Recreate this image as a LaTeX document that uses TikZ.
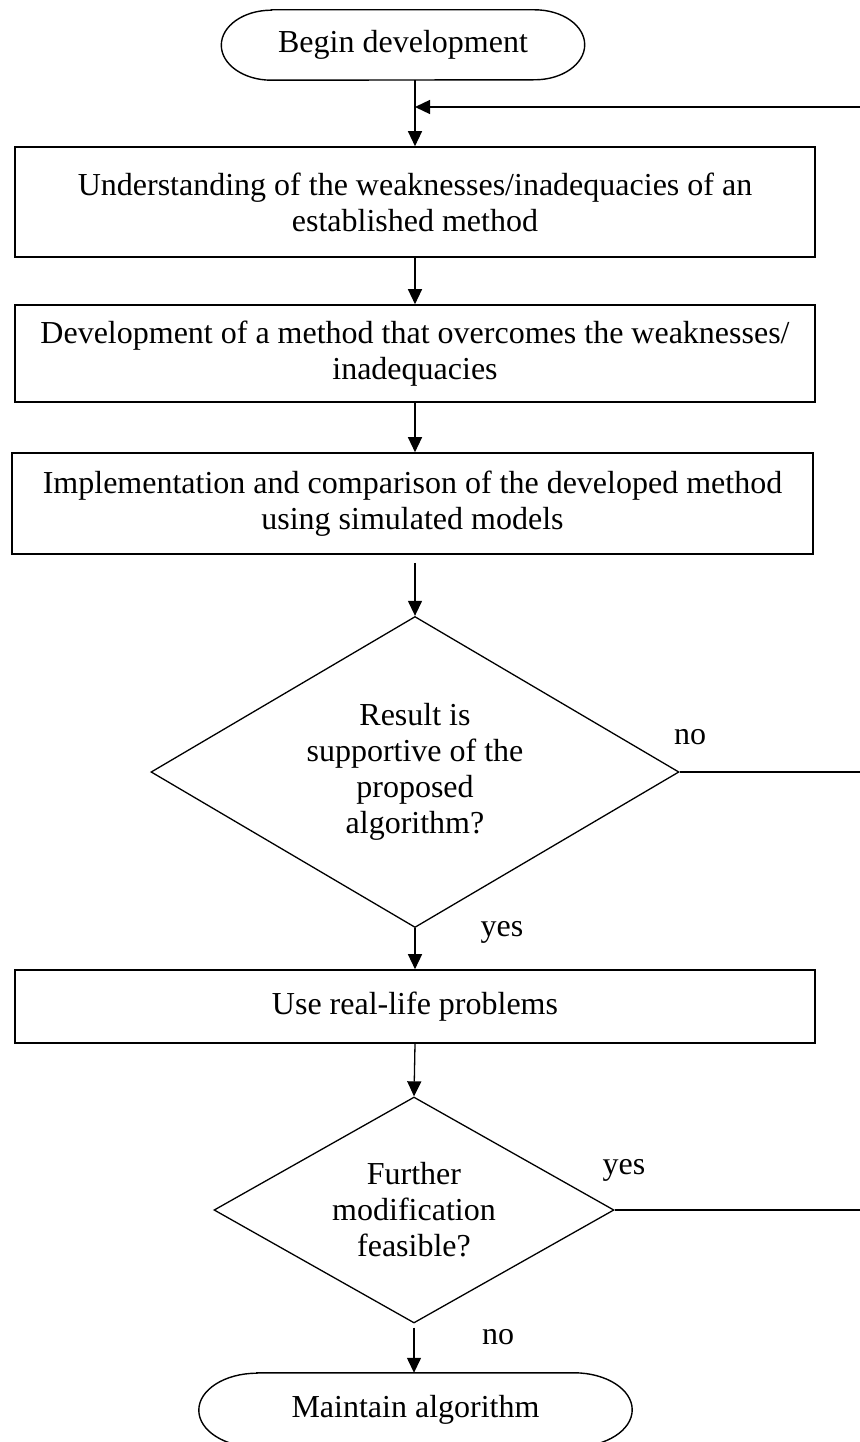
\documentclass[tikz,border=0pt]{standalone}
\usepackage{fontspec}
\setmainfont{Liberation Serif}
\usetikzlibrary{shapes.geometric,arrows.meta}

\tikzset{
  box/.style={draw,line width=1.6pt,inner sep=0pt,align=center,minimum width=800pt},
  choice/.style={draw,diamond,line width=1.3pt,inner sep=0pt,align=center},
  terminal/.style={inner sep=0pt,minimum height=70pt},
  link/.style={line width=1.3pt,-{Triangle[length=15pt,width=14pt]}},
  edge/.style={line width=1.4pt},
  outline/.style={line width=1.4pt}
}

\begin{document}
\begin{tikzpicture}[x=1pt,y=-1pt,font=\fontsize{32}{36}\selectfont]
\useasboundingbox (0,0) rectangle (859,1442);

\node[terminal,minimum width=363pt] (begin) at (403,45) {Begin development};
\draw[outline] ([xshift=50pt]begin.north west) -- ([xshift=-50pt]begin.north east)
  arc[start angle=90,end angle=-90,x radius=50pt,y radius=35pt]
  -- ([xshift=50pt]begin.south west)
  arc[start angle=270,end angle=90,x radius=50pt,y radius=35pt] -- cycle;

\node[box,minimum height=110pt] (understand) at (415,202) {Understanding of the weaknesses/inadequacies of an\\established method};
\node[box,minimum height=97pt] (develop) at (415,353.5) {Development of a method that overcomes the weaknesses/\\inadequacies};
\node[box,minimum width=801pt,minimum height=101pt] (implement) at (412.5,503.5) {Implementation and comparison of the developed method\\using simulated models};

\node[choice,minimum width=528pt,minimum height=311pt,aspect=1.7] (supportive) at (415,772) {Result is\\supportive of the\\proposed\\algorithm?};

\node[box,minimum height=73pt] (reallife) at (415,1006.5) {Use real-life problems};

\node[choice,minimum width=400pt,minimum height=226pt,aspect=1.77] (feasible) at (414,1210) {Further\\modification\\feasible?};

\node[terminal,minimum width=433pt,minimum height=74pt] (maintain) at (415.5,1410) {Maintain algorithm};
\draw[outline] ([xshift=58pt]maintain.north west) -- ([xshift=-58pt]maintain.north east)
  arc[start angle=90,end angle=-90,x radius=58pt,y radius=37pt]
  -- ([xshift=58pt]maintain.south west)
  arc[start angle=270,end angle=90,x radius=58pt,y radius=37pt] -- cycle;

\coordinate (back) at (862,107);
\coordinate (outno) at (862,772);
\coordinate (outyes) at (862,1210);

\draw[link] (begin.south -| understand.north) -- (understand.north);
\draw[link] (back) -- (back -| understand.north);
\draw[link] (understand.south) -- (develop.north);
\draw[link] (develop.south) -- (develop.south |- implement.north);
\draw[link,shorten <=8pt] (supportive.north |- implement.south) -- (supportive.north);
\draw[link] (supportive.south) -- (reallife.north);
\draw[edge] (supportive.east) -- (outno);
\draw[link] (reallife.south) -- (feasible.north);
\draw[edge] (feasible.east) -- (outyes);
\draw[link,shorten <=4pt] (feasible.south) -- (feasible.south |- maintain.north);

\node (no1) at (690,737) {no};
\node (yes1) at (502,932) {yes};
\node (yes2) at (624,1170) {yes};
\node (no2) at (498,1337) {no};
\end{tikzpicture}
\end{document}
